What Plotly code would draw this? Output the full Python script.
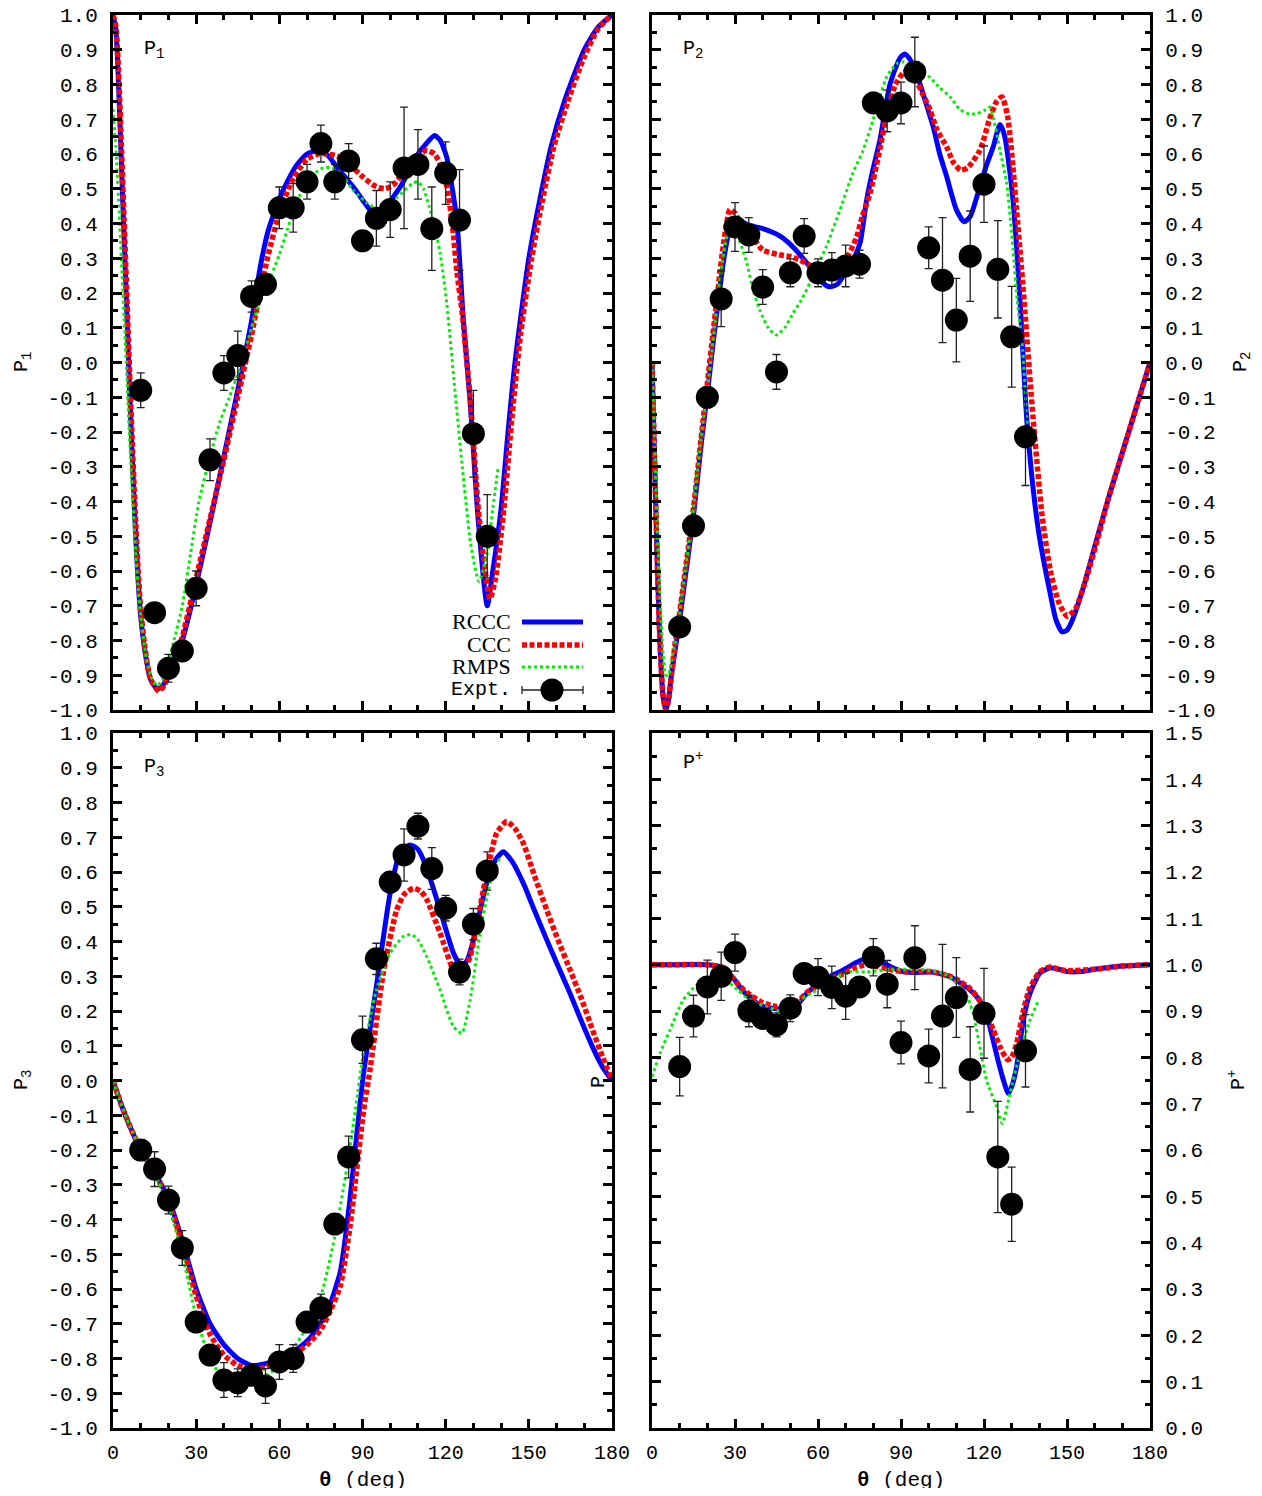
import plotly.graph_objects as go

# ---------------- data ----------------
theta_expt = [10, 15, 20, 25, 30, 35, 40, 45, 50, 55, 60, 65, 70, 75, 80,
              85, 90, 95, 100, 105, 110, 115, 120, 125, 130, 135]

p1_expt = [-0.08, -0.72, -0.88, -0.83, -0.65, -0.28, -0.03, 0.02, 0.19, 0.225, 0.445, 0.445, 0.52,
           0.63, 0.52, 0.58, 0.35, 0.415, 0.44, 0.56, 0.57, 0.385, 0.545, 0.41, -0.205, -0.50]
p1_err = [0.05, 0.02, 0.04, 0.03, 0.05, 0.06, 0.05, 0.07, 0.045, 0.03, 0.06, 0.07, 0.05,
          0.053, 0.05, 0.05, 0.02, 0.08, 0.08, 0.175, 0.10, 0.12, 0.09, 0.145, 0.125, 0.12]

p2_expt = [-0.761, -0.47, -0.10, 0.183, 0.39, 0.367, 0.217, -0.027, 0.258, 0.364, 0.258, 0.266, 0.278,
           0.283, 0.747, 0.724, 0.747, 0.836, 0.33, 0.237, 0.122, 0.306, 0.513, 0.268, 0.074, -0.214]
p2_err = [0.02, 0.02, 0.03, 0.08, 0.07, 0.05, 0.05, 0.05, 0.04, 0.05, 0.04, 0.05, 0.06,
          0.04, 0.03, 0.06, 0.06, 0.10, 0.06, 0.18, 0.12, 0.13, 0.11, 0.14, 0.145, 0.14]

p3_expt = [-0.20, -0.255, -0.344, -0.482, -0.695, -0.79, -0.862, -0.87, -0.848, -0.879, -0.81, -0.80, -0.695,
           -0.655, -0.413, -0.22, 0.117, 0.35, 0.571, 0.649, 0.732, 0.61, 0.496, 0.312, 0.45, 0.603]
p3_err = [0.03, 0.05, 0.04, 0.05, 0.03, 0.02, 0.05, 0.04, 0.03, 0.05, 0.05, 0.04, 0.03,
          0.04, 0.03, 0.06, 0.068, 0.045, 0.03, 0.075, 0.037, 0.06, 0.037, 0.037, 0.045, 0.055]

pp_expt = [0.780, 0.889, 0.952, 0.975, 1.026, 0.900, 0.884, 0.870, 0.906, 0.981, 0.973, 0.951, 0.932,
           0.952, 1.016, 0.958, 0.832, 1.015, 0.803, 0.889, 0.929, 0.774, 0.895, 0.585, 0.483, 0.814]
pp_err = [0.063, 0.045, 0.058, 0.052, 0.04, 0.034, 0.02, 0.026, 0.029, 0.02, 0.04, 0.046, 0.05,
          0.02, 0.04, 0.051, 0.046, 0.069, 0.058, 0.155, 0.086, 0.092, 0.097, 0.12, 0.08, 0.078]

# P1 theory curves
p1_rccc_theta = [0, 1, 2, 3, 4, 5, 6, 7, 8, 9, 10, 11.5, 13.5, 16, 18, 20, 22.5, 25, 30, 35, 40, 45, 50,
                 53, 56, 61, 66, 70, 73.5, 77, 81, 86.7, 92.6, 95, 98, 101, 104, 107, 110, 113, 116, 118,
                 120.4, 122, 124, 126.4, 128.8, 131.7, 135, 137, 140, 142.5, 145, 150, 154, 158, 163,
                 170, 175, 180]
p1_rccc = [1.0, 0.96, 0.80, 0.58, 0.36, 0.14, -0.08, -0.28, -0.47, -0.62, -0.73, -0.83, -0.91, -0.94,
           -0.93, -0.89, -0.84, -0.80, -0.64, -0.46, -0.27, -0.08, 0.12, 0.27, 0.38, 0.49, 0.565, 0.60,
           0.61, 0.60, 0.56, 0.505, 0.44, 0.425, 0.44, 0.475, 0.51, 0.555, 0.60, 0.63, 0.653, 0.64,
           0.59, 0.52, 0.41, 0.12, -0.11, -0.45, -0.70, -0.60, -0.42, -0.20, 0.0, 0.30, 0.47, 0.62,
           0.755, 0.90, 0.965, 1.0]
p1_ccc_theta = [0, 1, 2, 3, 4, 5, 6, 7, 8, 9, 10, 11.5, 13.5, 16.5, 18.5, 20, 22.5, 25, 30, 35, 40, 45,
                50, 53, 56, 60, 65, 70, 74, 78, 82, 86, 90, 94, 98, 101, 105, 109, 113, 116, 118, 120.5,
                122.5, 124, 126, 129, 132, 136, 138, 141, 144, 147, 151, 155, 159, 164, 170, 175, 180]
p1_ccc = [1.0, 0.97, 0.84, 0.63, 0.41, 0.19, -0.03, -0.24, -0.43, -0.59, -0.71, -0.82, -0.91, -0.945,
          -0.93, -0.90, -0.85, -0.79, -0.62, -0.45, -0.28, -0.10, 0.08, 0.20, 0.31, 0.43, 0.53, 0.585,
          0.60, 0.60, 0.59, 0.565, 0.535, 0.51, 0.50, 0.51, 0.55, 0.59, 0.61, 0.60, 0.57, 0.505, 0.39,
          0.265, 0.14, -0.12, -0.44, -0.68, -0.62, -0.42, -0.15, 0.08, 0.30, 0.47, 0.62, 0.75, 0.88,
          0.96, 1.0]
p1_rmps_theta = [0, 1, 2, 3, 4, 5, 6, 7, 8, 9, 10, 12, 14, 16, 18, 20, 22, 25, 28, 31, 35, 38.6, 42, 46,
                 50, 53, 57, 60, 64, 68.7, 72, 75.8, 79, 82, 86.7, 91.5, 96, 102.4, 108, 110, 112, 114,
                 116, 118, 120.4, 123, 126, 129, 132, 135, 137, 139]
p1_rmps = [0.73, 0.62, 0.47, 0.30, 0.13, -0.04, -0.22, -0.38, -0.52, -0.64, -0.73, -0.85, -0.91, -0.93,
           -0.91, -0.86, -0.80, -0.70, -0.55, -0.40, -0.27, -0.17, -0.10, -0.01, 0.10, 0.18, 0.25, 0.31,
           0.41, 0.505, 0.54, 0.56, 0.56, 0.545, 0.495, 0.46, 0.44, 0.475, 0.515, 0.52, 0.50, 0.45, 0.39,
           0.315, 0.17, -0.05, -0.30, -0.52, -0.63, -0.55, -0.42, -0.30]

# P2 theory curves
p2_rccc_theta = [0, 1, 2, 3, 4, 5, 6, 7, 8.5, 10, 12, 15, 18, 20, 22, 24, 26, 28, 30.6, 35, 40, 46, 50,
                 53.5, 58, 61, 64, 67, 70.4, 73, 75.2, 77.6, 80, 82.4, 86, 89.6, 91.4, 93, 95.7, 98.5,
                 101.6, 104, 106.5, 110, 112.8, 115, 118.5, 121, 123.3, 125.8, 127.5, 130.5, 133, 135.4,
                 138, 140, 143.8, 146, 148.2, 150, 152, 156, 160, 165, 170, 175, 180]
p2_rccc = [0.0, -0.30, -0.60, -0.83, -0.96, -1.0, -0.97, -0.90, -0.82, -0.74, -0.62, -0.44, -0.22, -0.09,
           0.05, 0.18, 0.30, 0.38, 0.41, 0.395, 0.385, 0.365, 0.34, 0.31, 0.266, 0.235, 0.218, 0.225,
           0.266, 0.30, 0.344, 0.468, 0.56, 0.64, 0.80, 0.876, 0.888, 0.875, 0.83, 0.76, 0.68, 0.60,
           0.535, 0.44, 0.405, 0.42, 0.506, 0.57, 0.62, 0.685, 0.65, 0.467, 0.18, -0.156, -0.38, -0.50,
           -0.66, -0.74, -0.775, -0.77, -0.74, -0.645, -0.53, -0.39, -0.26, -0.13, 0.0]
p2_ccc_theta = [0, 1, 2, 3, 4, 5, 6, 7, 8.5, 10, 12, 15, 18, 20, 22, 24, 26, 28.2, 30, 32, 35.4, 40, 46,
                50, 53.5, 57, 60.7, 64, 68, 71, 74, 76, 78.8, 82, 85, 88, 91, 93, 95, 98, 100.5, 103,
                106.5, 109, 111.5, 114, 118.5, 122, 124.5, 126.5, 128.5, 130.5, 132.2, 134, 137.7, 141,
                144, 147, 150, 153, 157, 161, 165, 170, 175, 180]
p2_ccc = [0.0, -0.30, -0.60, -0.83, -0.96, -1.0, -0.97, -0.90, -0.80, -0.72, -0.60, -0.42, -0.20, -0.06,
          0.08, 0.22, 0.35, 0.44, 0.43, 0.40, 0.372, 0.324, 0.31, 0.305, 0.295, 0.28, 0.266, 0.27, 0.286,
          0.31, 0.362, 0.42, 0.487, 0.60, 0.72, 0.80, 0.835, 0.84, 0.82, 0.77, 0.727, 0.67, 0.62, 0.575,
          0.554, 0.56, 0.61, 0.70, 0.75, 0.764, 0.71, 0.56, 0.40, 0.228, -0.156, -0.44, -0.60, -0.69,
          -0.73, -0.71, -0.62, -0.51, -0.39, -0.26, -0.13, 0.0]
p2_rmps_theta = [0, 1, 2, 3, 4, 5, 6, 7, 8.5, 10, 12, 15, 18, 20, 22, 24, 26, 28, 29.5, 30.7, 32.5, 34.3,
                 36.5, 39, 42, 45, 48, 51, 54, 57, 60, 63, 68, 72.6, 76.3, 80, 84.8, 88.5, 91, 95, 100.5,
                 104, 107.7, 111, 114, 117, 120, 122, 123.5, 125.8, 128.2, 130.5, 132, 134, 135.4, 136.5]
p2_rmps = [0.0, -0.25, -0.50, -0.70, -0.84, -0.90, -0.90, -0.86, -0.80, -0.72, -0.60, -0.42, -0.20, -0.08,
           0.06, 0.20, 0.32, 0.39, 0.40, 0.37, 0.33, 0.286, 0.21, 0.15, 0.10, 0.079, 0.10, 0.142, 0.18,
           0.228, 0.28, 0.333, 0.44, 0.545, 0.61, 0.70, 0.822, 0.86, 0.865, 0.85, 0.82, 0.79, 0.765,
           0.73, 0.717, 0.715, 0.725, 0.735, 0.70, 0.61, 0.515, 0.324, 0.18, 0.036, -0.156, -0.25]

# P3 theory curves
p3_rccc_theta = [0, 3, 6, 10, 15, 20, 25, 30, 35, 40, 45, 50, 55, 60, 65, 70, 74.7, 78, 82, 85.5, 88,
                 90.2, 95, 100, 103.5, 107.1, 110, 113, 118, 122.8, 125.8, 128, 130, 134.8, 138, 140.8,
                 144, 148, 152, 156.5, 160.5, 164.9, 169, 173, 176.5, 180]
p3_rccc = [0.0, -0.07, -0.13, -0.20, -0.265, -0.34, -0.46, -0.60, -0.70, -0.76, -0.80, -0.82, -0.815,
           -0.80, -0.78, -0.75, -0.70, -0.65, -0.55, -0.34, -0.15, 0.01, 0.27, 0.54, 0.655, 0.678, 0.665,
           0.615, 0.49, 0.367, 0.327, 0.35, 0.404, 0.568, 0.635, 0.658, 0.63, 0.568, 0.49, 0.404, 0.33,
           0.25, 0.17, 0.096, 0.04, 0.0]
p3_ccc_theta = [0, 3, 6, 10, 15, 20, 25, 30, 35, 40, 45, 50, 55, 60, 65, 70, 74.7, 78, 82, 85.5, 88, 90.5,
                92.7, 97.5, 102.3, 105, 108.3, 111, 113.2, 118, 122.8, 124.5, 126.5, 128.8, 131, 133.6,
                136, 138.4, 142, 145, 148, 152, 156.5, 160.5, 164.9, 169, 173, 176.5, 180]
p3_ccc = [0.0, -0.07, -0.13, -0.20, -0.265, -0.35, -0.47, -0.62, -0.73, -0.79, -0.82, -0.83, -0.825,
          -0.81, -0.79, -0.76, -0.72, -0.67, -0.59, -0.42, -0.25, -0.08, 0.03, 0.31, 0.49, 0.535, 0.553,
          0.545, 0.52, 0.424, 0.318, 0.31, 0.32, 0.356, 0.44, 0.548, 0.64, 0.712, 0.745, 0.725, 0.683,
          0.59, 0.49, 0.405, 0.318, 0.235, 0.145, 0.07, 0.0]
p3_rmps_theta = [0, 3, 6, 10, 15, 20, 25, 30, 35, 40, 45, 50, 55, 60, 65, 70, 75, 80, 85, 87.5, 90.3, 95,
                 100, 104.7, 107.7, 110, 113.2, 118, 122.8, 125.8, 128.8, 132.4, 136, 139.6]
p3_rmps = [0.0, -0.07, -0.13, -0.20, -0.27, -0.36, -0.50, -0.68, -0.80, -0.86, -0.875, -0.87, -0.85,
           -0.82, -0.77, -0.71, -0.62, -0.45, -0.22, -0.08, 0.079, 0.26, 0.367, 0.414, 0.42, 0.405,
           0.356, 0.26, 0.155, 0.136, 0.23, 0.424, 0.568, 0.643]

# P+ theory curves
pp_rccc_theta = [0, 10, 20, 25, 27, 29.4, 32, 35.4, 40, 45, 51, 53.5, 55.9, 61.8, 69, 74, 77, 80, 83.5,
                 87, 90.7, 95, 101, 104.5, 107.7, 111, 115, 117.5, 119.7, 121.5, 123.3, 125, 127, 128.8,
                 130.2, 131.8, 134.2, 136.6, 140.2, 143.8, 147, 150, 155, 160, 170, 180]
pp_rccc = [1.0, 1.0, 1.0, 0.995, 0.985, 0.971, 0.95, 0.928, 0.91, 0.905, 0.906, 0.92, 0.938, 0.967,
           0.988, 1.005, 1.013, 1.01, 1.004, 0.993, 0.985, 0.983, 0.984, 0.98, 0.974, 0.962, 0.945, 0.93,
           0.909, 0.88, 0.837, 0.795, 0.751, 0.722, 0.74, 0.78, 0.88, 0.938, 0.982, 0.993, 0.99, 0.985,
           0.985, 0.99, 0.997, 1.0]
pp_ccc_theta = [0, 10, 20, 25, 27, 29.4, 32, 35.4, 40, 45, 51, 53.5, 56, 62, 69, 74, 78, 83.5, 90.7, 101,
                107.7, 111, 115, 119.7, 123.3, 126, 128.5, 130, 131.8, 134.2, 136.6, 140.2, 143.8, 147,
                150, 160, 170, 180]
pp_ccc = [1.0, 1.0, 1.0, 0.995, 0.985, 0.97, 0.952, 0.935, 0.918, 0.91, 0.915, 0.925, 0.94, 0.963, 0.98,
          0.995, 1.0, 0.993, 0.985, 0.985, 0.975, 0.965, 0.948, 0.912, 0.86, 0.82, 0.795, 0.80, 0.83,
          0.90, 0.95, 0.985, 0.995, 0.99, 0.987, 0.99, 0.997, 1.0]
pp_rmps_theta = [0, 3, 6.5, 11.3, 16.2, 23.4, 28, 31, 35.4, 41, 47, 53.5, 59.5, 65.5, 71.6, 77.6, 83.5, 89,
                 95.5, 100, 105.3, 108.5, 111.3, 114, 116.1, 118.5, 120.9, 124.6, 126.6, 129.4, 133,
                 136.6, 139.5]
pp_rmps = [0.758, 0.81, 0.859, 0.924, 0.956, 0.967, 0.96, 0.945, 0.924, 0.91, 0.90, 0.924, 0.945, 0.97,
           0.985, 0.984, 0.988, 0.99, 0.99, 0.988, 0.981, 0.97, 0.952, 0.93, 0.895, 0.823, 0.751, 0.693,
           0.657, 0.722, 0.809, 0.88, 0.92]

x_tick_vals = [0, 30, 60, 90, 120, 150, 180]
x_tick_text = ["0", "30", "60", "90", "120", "150", "180"]
x_minor_vals = [10, 20, 40, 50, 70, 80, 100, 110, 130, 140, 160, 170]
p_tick_vals = [-1.0, -0.9, -0.8, -0.7, -0.6, -0.5, -0.4, -0.3, -0.2, -0.1, 0.0,
               0.1, 0.2, 0.3, 0.4, 0.5, 0.6, 0.7, 0.8, 0.9, 1.0]
p_tick_text = ["-1.0", "-0.9", "-0.8", "-0.7", "-0.6", "-0.5", "-0.4", "-0.3", "-0.2", "-0.1", "0.0",
               "0.1", "0.2", "0.3", "0.4", "0.5", "0.6", "0.7", "0.8", "0.9", "1.0"]
pp_tick_vals = [0.0, 0.1, 0.2, 0.3, 0.4, 0.5, 0.6, 0.7, 0.8, 0.9, 1.0, 1.1, 1.2, 1.3, 1.4, 1.5]
pp_tick_text = ["0.0", "0.1", "0.2", "0.3", "0.4", "0.5", "0.6", "0.7", "0.8", "0.9", "1.0",
                "1.1", "1.2", "1.3", "1.4", "1.5"]
series_names = ["RCCC", "CCC", "RMPS", "Expt."]

# ---------------- style ----------------
OFF = 8                       # default page body margin
FW, FH = 1262 - 2 * OFF, 1496 - 2 * OFF


def fx(px):
    return (px - OFF) / FW


def fy(py):
    return 1 - (py - OFF) / FH


MONO = "Liberation Mono, Courier New, monospace"
SERIF = "Liberation Serif, Times New Roman, serif"
BLUE, RED, GREEN = "#0000ff", "#ff0000", "#00ee00"
STY = {
    "RCCC": dict(color=BLUE, width=5, dash="solid"),
    "CCC": dict(color=RED, width=5.5, dash="5px,2.5px"),
    "RMPS": dict(color=GREEN, width=3, dash="3px,3px"),
}
XL = [fx(113), fx(612)]
XR = [fx(652), fx(1150)]
YT = [fy(710), fy(15)]
YB = [fy(1428), fy(733)]

fig = go.Figure()

panels = [
    ("x", "y", [(p1_rccc_theta, p1_rccc), (p1_ccc_theta, p1_ccc), (p1_rmps_theta, p1_rmps)], p1_expt, p1_err),
    ("x2", "y2", [(p2_rccc_theta, p2_rccc), (p2_ccc_theta, p2_ccc), (p2_rmps_theta, p2_rmps)], p2_expt, p2_err),
    ("x3", "y3", [(p3_rccc_theta, p3_rccc), (p3_ccc_theta, p3_ccc), (p3_rmps_theta, p3_rmps)], p3_expt, p3_err),
    ("x4", "y4", [(pp_rccc_theta, pp_rccc), (pp_ccc_theta, pp_ccc), (pp_rmps_theta, pp_rmps)], pp_expt, pp_err),
]
for xa, ya, curves, ex, er in panels:
    for name, (tx, ty) in zip(series_names[:3], curves):
        fig.add_trace(go.Scatter(x=tx, y=ty, xaxis=xa, yaxis=ya, mode="lines", name=name,
                                 line=dict(shape="spline", smoothing=0.6, **STY[name]),
                                 showlegend=False, hoverinfo="skip"))
    fig.add_trace(go.Scatter(x=theta_expt, y=ex, xaxis=xa, yaxis=ya, mode="markers", name="Expt.",
                             marker=dict(size=23, color="black"),
                             error_y=dict(type="data", array=er, color="#222222", thickness=1.3, width=4),
                             showlegend=False))

common = dict(showline=True, linecolor="black", linewidth=3, mirror="ticks", ticks="inside",
              tickcolor="black", tickwidth=2.5, ticklen=9, showgrid=False, zeroline=False,
              ticklabeloverflow="allow")


def xax(dom, anchor, labels):
    return dict(domain=dom, anchor=anchor, range=[0, 180], tickmode="array", tickvals=x_tick_vals,
                ticktext=x_tick_text, showticklabels=labels, ticklabelstandoff=4,
                tickfont=dict(family=MONO, size=20, color="black"),
                minor=dict(tickmode="array", tickvals=x_minor_vals, ticks="inside", ticklen=5,
                           tickwidth=2.5, tickcolor="black"), **common)


def yax(dom, anchor, side, rng, vals, text):
    minor_vals = [round(v + 0.05, 2) for v in vals[:-1]]
    return dict(domain=dom, anchor=anchor, side=side, range=rng, tickmode="array", tickvals=vals,
                ticktext=text, ticklabelstandoff=8,
                tickfont=dict(family=MONO, size=21, color="black"),
                minor=dict(tickmode="array", tickvals=minor_vals, ticks="inside", ticklen=5,
                           tickwidth=2.5, tickcolor="black"), **common)


fig.update_layout(
    width=FW, height=FH, margin=dict(l=0, r=0, t=0, b=0, autoexpand=False),
    plot_bgcolor="white", paper_bgcolor="white", showlegend=False,
    xaxis=xax(XL, "y", False), yaxis=yax(YT, "x", "left", [-1, 1], p_tick_vals, p_tick_text),
    xaxis2=xax(XR, "y2", False), yaxis2=yax(YT, "x2", "right", [-1, 1], p_tick_vals, p_tick_text),
    xaxis3=xax(XL, "y3", True), yaxis3=yax(YB, "x3", "left", [-1, 1], p_tick_vals, p_tick_text),
    xaxis4=xax(XR, "y4", True), yaxis4=yax(YB, "x4", "right", [0, 1.5], pp_tick_vals, pp_tick_text),
)

ann = []
# panel labels
for xr, yr, txt, yy in [("x domain", "y domain", "P<sub>1</sub>", 0.95), ("x2 domain", "y2 domain", "P<sub>2</sub>", 0.95),
                        ("x3 domain", "y3 domain", "P<sub>3</sub>", 0.95), ("x4 domain", "y4 domain", "P<sup>+</sup>", 0.96)]:
    ann.append(dict(xref=xr, yref=yr, x=0.058, y=yy, text=txt, showarrow=False, xanchor="left",
                    yanchor="middle", font=dict(family=MONO, size=20, color="black")))
# axis titles
for x, y, txt in [(22, 362, "P<sub>1</sub>"), (1241, 362, "P<sub>2</sub>"), (22, 1080, "P<sub>3</sub>"),
                  (1237, 1080, "P<sup>+</sup>")]:
    ann.append(dict(xref="paper", yref="paper", x=fx(x), y=fy(y), text=txt, textangle=-90,
                    xanchor="center", yanchor="middle",
                    showarrow=False, font=dict(family=MONO, size=20, color="black")))
ann.append(dict(xref="paper", yref="paper", x=fx(598), y=fy(1082), text="P", textangle=-90,
                xanchor="center", yanchor="middle",
                showarrow=False, font=dict(family=MONO, size=20, color="black")))
for x in (362.5, 901):
    ann.append(dict(xref="paper", yref="paper", x=fx(x), y=fy(1480), text="<b>θ</b> (deg)",
                    xanchor="center", yanchor="middle",
                    showarrow=False, font=dict(family=MONO, size=21, color="black")))

# legend (inside P1, text left of sample)
leg_y = [622, 645, 667, 690]
shapes = []
x0d, x1d, xtd = (522 - 113) / 499, (583 - 113) / 499, (513 - 113) / 499
for name, py in zip(series_names, leg_y):
    yd = (710 - py) / 695
    fnt = dict(family=SERIF if name != "Expt." else MONO, size=22 if name != "Expt." else 20, color="black")
    ann.append(dict(xref="x domain", yref="y domain", x=xtd, y=yd, text=name, showarrow=False,
                    xanchor="right", yanchor="middle", font=fnt))
    if name in STY:
        s = STY[name]
        shapes.append(dict(type="line", xref="x domain", yref="y domain", x0=x0d, x1=x1d, y0=yd, y1=yd,
                           line=dict(color=s["color"], width=s["width"], dash=s["dash"])))
    else:
        shapes.append(dict(type="line", xref="x domain", yref="y domain", x0=x0d, x1=x1d, y0=yd, y1=yd,
                           line=dict(color="#222222", width=1.3)))
        for xe in (x0d, x1d):
            shapes.append(dict(type="line", xref="x domain", yref="y domain", xsizemode="pixel",
                               ysizemode="pixel", xanchor=xe, yanchor=yd, x0=0, x1=0, y0=-4, y1=4,
                               line=dict(color="#222222", width=1.3)))
        shapes.append(dict(type="circle", xref="x domain", yref="y domain", xsizemode="pixel",
                           ysizemode="pixel", xanchor=(552 - 113) / 499, yanchor=yd, x0=-11.5, x1=11.5,
                           y0=-11.5, y1=11.5, fillcolor="black", line=dict(color="black", width=0)))

fig.update_layout(annotations=ann, shapes=shapes)
fig.write_html("out.html", config={"displayModeBar": False})
